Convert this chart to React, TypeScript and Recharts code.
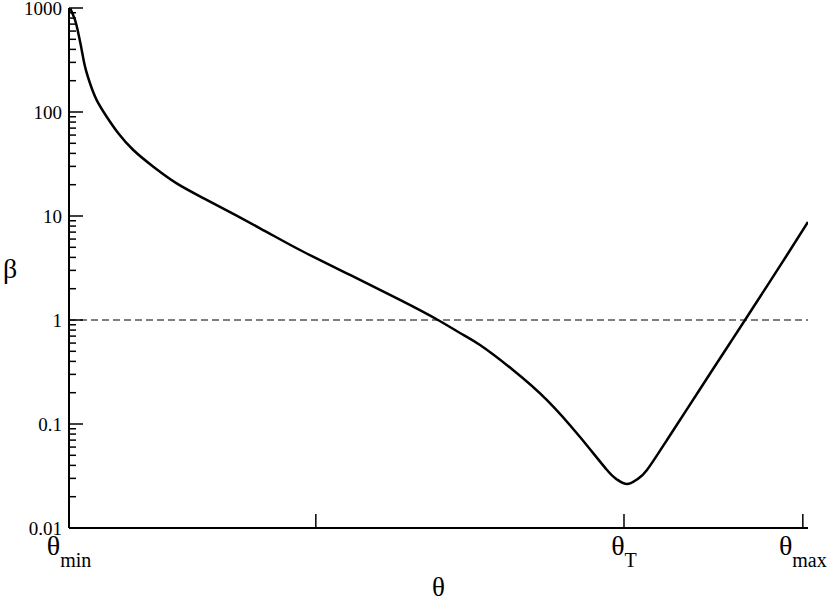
import React from 'react';
import { LineChart, Line, XAxis, YAxis, ReferenceLine } from 'recharts';

// theta in arbitrary units (θmin = 0 ... right border = 100), beta
const thetaValues = [
  0.14, 0.81, 1.26, 1.72, 2.17, 2.84, 3.75, 5.1, 6.67, 8.7, 11.41, 14.57, 18.63, 25.85,
  31.26, 38.03, 44.79, 49.93, 52.91, 55.62, 60.08, 64.68, 69.15, 72.8, 74.15, 75.51,
  76.86, 78.21, 80.92, 83.63, 87.15, 89.45, 91.48, 94.45, 97.16, 100,
];
const betaValues = [
  1000, 767, 571, 395, 273, 189, 130, 90, 62.4, 43.1, 29.8, 20.6, 14.3, 7.62,
  4.71, 2.71, 1.56, 1.0, 0.75, 0.575, 0.331, 0.17, 0.075, 0.0361, 0.0293, 0.0265,
  0.0293, 0.0361, 0.0702, 0.139, 0.338, 0.601, 1.0, 2.12, 4.22, 8.75,
];

const xTicks = [0, 33.4, 75.1, 99.3];
const xTickMain = ['θ', '', 'θ', 'θ'];
const xTickSub = ['min', '', 'T', 'max'];

const yMajor = [0.01, 0.1, 1, 10, 100, 1000];
const yMinorFactors = [2, 3, 4, 5, 6, 7, 8, 9];

const yTicks: number[] = [];
yMajor.forEach((d, i) => {
  yTicks.push(d);
  if (i < yMajor.length - 1) yMinorFactors.forEach((f) => yTicks.push(+(d * f).toPrecision(3)));
});

const data = thetaValues.map((t, i) => ({ theta: t, beta: betaValues[i] }));

const FONT = "'Liberation Serif', 'Times New Roman', serif";
const textStyle = { fontFamily: FONT };

const isMajor = (v: number) => Math.abs(Math.log10(v) - Math.round(Math.log10(v))) < 1e-6;

const LeftTick = (props: any) => {
  const { x, y, payload } = props;
  const major = isMajor(payload.value);
  return (
    <g>
      <line x1={x} x2={x + (major ? 14 : 7)} y1={y} y2={y} stroke="#000" strokeWidth={1.5} />
      {major && (
        <text x={x - 7} y={y} dy="0.35em" textAnchor="end" style={textStyle} fontSize={19} fill="#000">
          {payload.value}
        </text>
      )}
    </g>
  );
};

const RightTick = (props: any) => {
  const { x, y, payload } = props;
  const major = isMajor(payload.value);
  return <line x1={x} x2={x - (major ? 14 : 7)} y1={y} y2={y} stroke="#000" strokeWidth={1.5} />;
};

const BottomTick = (props: any) => {
  const { x, y, index } = props;
  return (
    <g>
      <line x1={x} x2={x} y1={y} y2={y - 14} stroke="#000" strokeWidth={1.5} />
      {xTickMain[index] && (
        <text x={x} y={y + 27} textAnchor="middle" style={textStyle} fontSize={28} fill="#000">
          {xTickMain[index]}
          <tspan dy={12} fontSize={20}>
            {xTickSub[index]}
          </tspan>
        </text>
      )}
    </g>
  );
};

const TopTick = (props: any) => {
  const { x, y } = props;
  return <line x1={x} x2={x} y1={y} y2={y + 14} stroke="#000" strokeWidth={1.5} />;
};

export default function App() {
  const axisLine = { stroke: '#000', strokeWidth: 2 };
  return (
    <div style={{ position: 'absolute', left: 0, top: 0, background: '#fff', fontFamily: FONT }}>
      <LineChart width={830} height={599} data={data} margin={{ top: 8, right: 22, bottom: 0, left: 0 }}>
        <XAxis
          dataKey="theta"
          type="number"
          domain={[0, 100]}
          allowDataOverflow
          ticks={xTicks}
          interval={0}
          height={71}
          tickLine={false}
          tickSize={0}
          tickMargin={0}
          axisLine={axisLine}
          tick={<BottomTick />}
          label={{ value: 'θ', position: 'insideBottom', offset: 3, style: { fontSize: 27, fill: '#000', fontFamily: FONT } }}
        />
        <XAxis
          xAxisId="top"
          orientation="top"
          type="number"
          domain={[0, 100]}
          allowDataOverflow
          ticks={xTicks}
          interval={0}
          height={0}
          tickLine={false}
          tickSize={0}
          tickMargin={0}
          axisLine={axisLine}
          tick={<TopTick />}
        />
        <YAxis
          scale="log"
          type="number"
          domain={[0.01, 1000]}
          allowDataOverflow
          ticks={yTicks}
          interval={0}
          width={69}
          tickLine={false}
          tickSize={0}
          tickMargin={0}
          axisLine={axisLine}
          tick={<LeftTick />}
          label={{ value: 'β', position: 'insideLeft', offset: 3, style: { fontSize: 28, fill: '#000', fontFamily: FONT } }}
        />
        <YAxis
          yAxisId="right"
          orientation="right"
          scale="log"
          type="number"
          domain={[0.01, 1000]}
          allowDataOverflow
          ticks={yTicks}
          interval={0}
          width={0}
          tickLine={false}
          tickSize={0}
          tickMargin={0}
          axisLine={axisLine}
          tick={<RightTick />}
        />
        <ReferenceLine y={1} stroke="#000" strokeWidth={1} strokeDasharray="7 4" />
        <Line
          type="natural"
          dataKey="beta"
          stroke="#000"
          strokeWidth={2.5}
          dot={false}
          isAnimationActive={false}
        />
      </LineChart>
    </div>
  );
}
